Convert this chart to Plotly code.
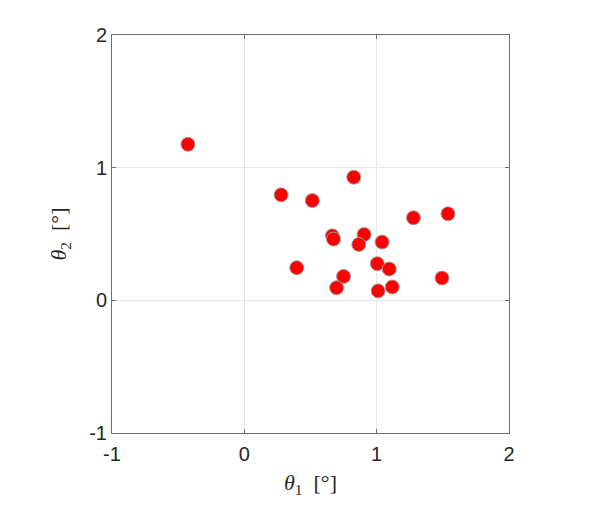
import plotly.graph_objects as go

theta1 = [-0.426, 0.278, 0.514, 0.827, 1.278, 1.539, 0.665, 0.674, 0.905, 0.865,
          1.041, 0.396, 0.750, 0.697, 1.005, 1.095, 1.011, 1.118, 1.494]
theta2 = [1.176, 0.795, 0.752, 0.928, 0.622, 0.652, 0.486, 0.462, 0.496, 0.421,
          0.439, 0.246, 0.180, 0.095, 0.276, 0.236, 0.071, 0.101, 0.168]
tick_vals = [-1, 0, 1, 2]
tick_text = ["-1", "0", "1", "2"]

fig = go.Figure()
fig.add_trace(go.Scatter(
    x=theta1, y=theta2, mode="markers",
    marker=dict(size=14, color="#ff0000", line=dict(color="#a0a0a0", width=1)),
    showlegend=False,
))

axis_common = dict(
    range=[-1, 2], tickvals=tick_vals, ticktext=tick_text,
    showgrid=True, gridcolor="#e6e6e6", gridwidth=1,
    zeroline=False, showline=True, linecolor="#6e6e6e", linewidth=1,
    mirror="ticks", ticks="inside", ticklen=4, tickcolor="#6e6e6e",
    tickfont=dict(family="Liberation Sans, Arial, sans-serif", size=20, color="#262626"),
)

fig.update_layout(
    width=600, height=527,
    margin=dict(l=104, r=99, t=27, b=102),
    paper_bgcolor="white", plot_bgcolor="white",
    xaxis=dict(**axis_common, ticklabelstandoff=3,
               title=dict(text="<i>θ</i><sub>1</sub>&nbsp;&nbsp;[°]", standoff=10,
                          font=dict(family="Liberation Serif, DejaVu Serif, serif", size=22, color="#262626"))),
    yaxis=dict(**axis_common,
               title=dict(text="<i>θ</i><sub>2</sub>&nbsp;&nbsp;[°]", standoff=16,
                          font=dict(family="Liberation Serif, DejaVu Serif, serif", size=22, color="#262626"))),
)

fig.write_html("out.html")
